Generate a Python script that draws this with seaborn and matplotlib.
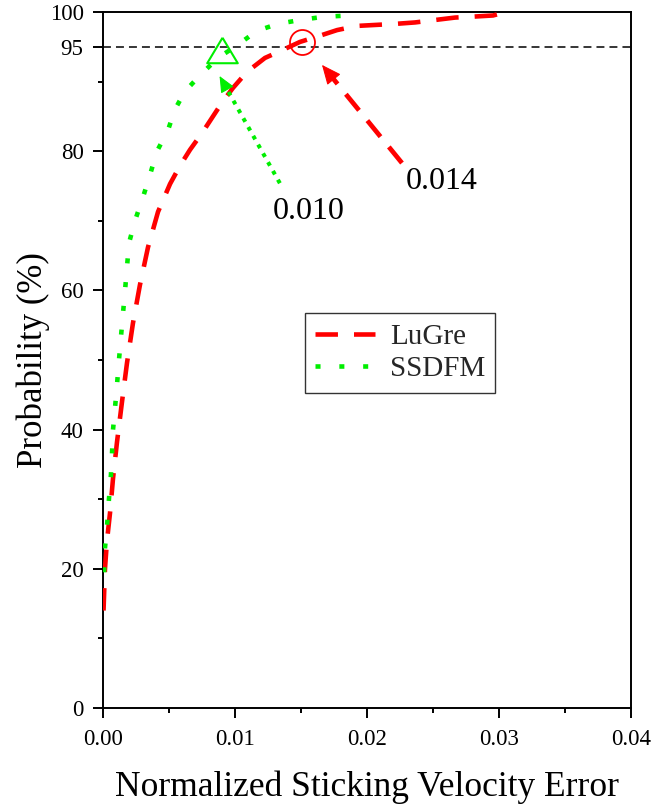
import numpy as np
import pandas as pd
import matplotlib
matplotlib.use("Agg")
import matplotlib.pyplot as plt
import seaborn as sns

# ---------------- data ----------------
lugre_x = [0.00004, 0.00015, 0.0003, 0.00053, 0.00076, 0.00106, 0.00144, 0.00182,
           0.00227, 0.00280, 0.00341, 0.00417, 0.00508, 0.00583, 0.00659, 0.00750,
           0.00826, 0.00902, 0.00985, 0.01091, 0.01227, 0.01356, 0.01492, 0.01644,
           0.01773, 0.01924, 0.0222, 0.02364, 0.02515, 0.02667, 0.02818, 0.02955,
           0.03023]
lugre_y = [14.0, 20.0, 24.0, 28.0, 33.0, 38.2, 44.0, 49.6,
           55.3, 60.8, 66.2, 71.3, 75.3, 77.9, 80.2, 82.6,
           84.8, 87.0, 89.1, 91.4, 93.4, 94.5, 95.7, 96.6,
           97.4, 98.0, 98.3, 98.5, 98.85, 99.2, 99.35, 99.5,
           99.85]

ssdfm_x = [0.00008, 0.00015, 0.0003, 0.00045, 0.0006, 0.00068, 0.00076, 0.00091,
           0.00106, 0.00121, 0.00136, 0.00152, 0.00167, 0.00182, 0.00197, 0.00242,
           0.00303, 0.00356, 0.00409, 0.00492, 0.00545, 0.00621, 0.00735, 0.00871,
           0.01015, 0.01167, 0.01326, 0.01508, 0.01667, 0.01856, 0.01886]
ssdfm_y = [19.5, 23.0, 26.0, 30.0, 33.5, 36.4, 40.0, 43.1,
           46.4, 50.0, 53.3, 56.8, 60.0, 63.4, 66.8, 70.0,
           73.4, 76.6, 80.0, 83.0, 86.0, 88.6, 90.9, 93.4,
           95.2, 97.3, 98.3, 98.9, 99.3, 99.5, 99.9]

series_names = ["LuGre", "SSDFM"]
threshold = 95

lugre_mark = (0.01504, 95.76)
ssdfm_mark = (0.00905, 94.5)

annot_labels = ["0.010", "0.014"]
annot_text_pos = [(0.01288, 71.4), (0.02295, 75.6)]
arrow_tail = [(0.0134, 75.4), (0.02265, 78.3)]
arrow_tip = [(0.00883, 90.8), (0.01659, 92.4)]

x_ticks = [0.00, 0.01, 0.02, 0.03, 0.04]
x_ticklabels = ["0.00", "0.01", "0.02", "0.03", "0.04"]
y_ticks = [0, 20, 40, 60, 80, 95, 100]
y_ticklabels = ["0", "20", "40", "60", "80", "95", "100"]
y_minor = [10, 30, 50, 70, 90]
x_minor = [0.005, 0.015, 0.025, 0.035]

# ---------------- style ----------------
sns.set_theme(style="ticks")
plt.rcParams["font.family"] = ["Liberation Serif", "DejaVu Serif"]

RED = "#ff0000"
GREEN = "#00ee00"

fig = plt.figure(figsize=(6.52, 8.09), dpi=100)
ax = fig.add_axes([103 / 652, 1 - 708 / 809, (631 - 103) / 652, (708 - 12) / 809])

df_l = pd.DataFrame({"x": lugre_x, "y": lugre_y})
df_s = pd.DataFrame({"x": ssdfm_x, "y": ssdfm_y})

sns.lineplot(data=df_l, x="x", y="y", ax=ax, color=RED, lw=3.3,
             linestyle=(0, (4.9, 3.5)), label=series_names[0], zorder=3)
sns.lineplot(data=df_s, x="x", y="y", ax=ax, color=GREEN, lw=3.3,
             linestyle=(0, (1.1, 4.1)), label=series_names[1], zorder=3)

ax.axhline(threshold, color="black", lw=1.1, linestyle=(0, (5.2, 3.3)), zorder=2)

ax.set_xlim(0, 0.04)
ax.set_ylim(0, 100)

# markers
ax.plot([lugre_mark[0]], [lugre_mark[1]], marker="o", ms=18, mfc="none",
        mec=RED, mew=1.3, ls="none", zorder=5)
tri = [(0, 1), (-1.2, -1), (1.2, -1), (0, 1)]
ax.plot([ssdfm_mark[0]], [ssdfm_mark[1]], marker=tri, ms=22, mfc="none",
        mec=GREEN, mew=1.5, ls="none", zorder=5)

# arrows: dashed/dotted shaft + solid filled head
styles = [(GREEN, (0, (1, 1.5)), 2.9, 14.0), (RED, (0, (4.4, 2.8)), 3.4, 17.0)]
inv = ax.transData.inverted()
for lab, tpos, tail, tip, (col, ls, lw, hl) in zip(annot_labels, annot_text_pos,
                                                    arrow_tail, arrow_tip, styles):
    t0 = ax.transData.transform(tail)
    t1 = ax.transData.transform(tip)
    u = (t1 - t0) / np.hypot(*(t1 - t0))
    back = inv.transform(t1 - u * hl)
    mid = inv.transform(t1 - u * hl * 0.6)
    ax.plot([tail[0], mid[0]], [tail[1], mid[1]], color=col, lw=lw,
            linestyle=ls, zorder=4)
    ax.annotate("", xy=tip, xytext=tuple(back),
                arrowprops=dict(arrowstyle="-|>,head_length=%.2f,head_width=%.2f"
                                % (hl * 0.72, hl * 0.32),
                                mutation_scale=1, color=col, lw=0.8,
                                shrinkA=0, shrinkB=0),
                zorder=4)
    ax.text(tpos[0], tpos[1], lab, fontsize=23, ha="left", va="center",
            color="black", zorder=6)

ax.set_xticks(x_ticks)
ax.set_xticklabels(x_ticklabels)
ax.set_yticks(y_ticks)
ax.set_yticklabels(y_ticklabels)
ax.set_xticks(x_minor, minor=True)
ax.set_yticks(y_minor, minor=True)

ax.tick_params(axis="both", which="major", direction="out", length=7,
               width=1.4, labelsize=16.5, color="black", labelcolor="black")
ax.tick_params(axis="both", which="minor", direction="out", length=3.5,
               width=1.4, color="black")
ax.tick_params(axis="x", which="major", pad=8)
ax.tick_params(axis="y", which="major", pad=7)
ax.tick_params(top=False, right=False, which="both")

for s in ax.spines.values():
    s.set_visible(True)
    s.set_linewidth(1.4)
    s.set_color("black")

ax.set_xlabel("Normalized Sticking Velocity Error", fontsize=25.5, labelpad=15,
              color="black")
ax.set_ylabel("Probability (%)", fontsize=25, labelpad=0, color="black")

leg = ax.legend(loc="center", bbox_to_anchor=(0.563, 0.51), fontsize=21,
                frameon=True, fancybox=False, edgecolor="black",
                handlelength=2.05, handletextpad=0.5, labelspacing=0.2,
                borderpad=0.35, borderaxespad=0)
leg.get_frame().set_linewidth(1.0)

fig.savefig("out.png", dpi=100, facecolor="white")
